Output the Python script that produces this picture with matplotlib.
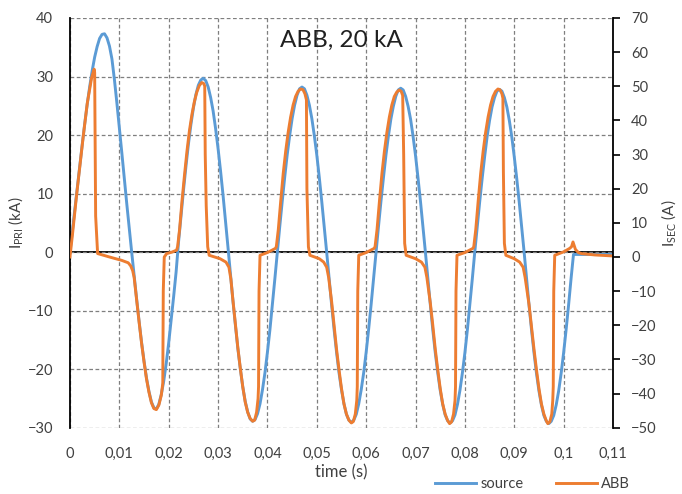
import matplotlib
matplotlib.use("Agg")
import matplotlib.pyplot as plt

plt.rcParams['font.family'] = ['Lato', 'DejaVu Sans']

# source: primary current (kA), every 0.5 ms from t = 0
src_step = 0.0005
i_src = [0, 3.7, 7.4, 11, 14.8, 18.5, 22, 25.3, 28.3, 31, 33.3, 35.1, 36.5, 37.2, 37.3,
         36.6, 35.2, 33, 29.5, 25.5, 21.3, 17, 12.6, 8.3, 4.1, 0,
         -4, -8, -11.8, -15.4, -18.6, -21.5, -23.8, -25.6, -26.6, -26.8, -26, -24.3, -22, -19,
         -15.5, -11.6, -7.6, -3.4,
         1.8, 6.3, 10.6, 14.7, 18.5, 21.8, 24.6, 26.9, 28.5, 29.4, 29.7, 29.3, 28.2, 26.4, 24.1,
         21.1, 17.7, 13.9, 9.8, 5.4, 0.9,
         -3.7, -8.2, -12.4, -16.4, -19.9, -23.0, -25.5, -27.3, -28.5, -28.9, -28.6, -27.6, -25.9,
         -23.5, -20.6, -17.1, -13.3, -9.0, -4.6,
         0, 4.4, 8.7, 12.8, 16.6, 19.9, 22.8, 25.1, 26.8, 27.9, 28.2, 27.9, 26.8, 25.1, 22.8, 19.9,
         16.6, 12.8, 8.7, 4.4,
         0, -4.5, -9.0, -13.2, -17.1, -20.6, -23.5, -25.9, -27.7, -28.7, -29.1, -28.7, -27.7, -25.9,
         -23.5, -20.6, -17.1, -13.2, -9.0, -4.5,
         0, 4.4, 8.7, 12.7, 16.5, 19.8, 22.7, 24.9, 26.6, 27.7, 28.0, 27.7, 26.6, 24.9, 22.7, 19.8,
         16.5, 12.7, 8.7, 4.4,
         0, -4.6, -9.0, -13.3, -17.2, -20.6, -23.6, -26.0, -27.8, -28.8, -29.2, -28.8, -27.8, -26.0,
         -23.6, -20.6, -17.2, -13.3, -9.0, -4.6,
         0, 4.3, 8.6, 12.6, 16.3, 19.7, 22.5, 24.8, 26.4, 27.5, 27.8, 27.5, 26.4, 24.8, 22.5, 19.7,
         16.3, 12.6, 8.6, 4.3,
         0, -4.6, -9.1, -13.3, -17.2, -20.7, -23.7, -26.1, -27.9, -28.9, -29.3, -28.9, -27.9, -26.1,
         -23.7, -20.7, -17.2, -13.3, -9.1, -4.6,
         -0.4, -0.4, -0.4, -0.4, -0.4, -0.4, -0.4, -0.4, -0.4, -0.4, -0.4, -0.4, -0.4, -0.4, -0.4,
         -0.4, -0.4]
t_src = [k * src_step for k in range(len(i_src))]

# ABB: secondary current (A)
t_abb = [0, 0.0005, 0.001, 0.00136, 0.002, 0.0027, 0.0035, 0.0044, 0.0049, 0.0050, 0.0052, 0.0056,
         0.008, 0.0105, 0.0118, 0.0123, 0.0127, 0.013, 0.0135, 0.014, 0.0145, 0.015, 0.0155,
         0.016, 0.0165, 0.017, 0.0175, 0.018, 0.0185, 0.0188, 0.0189, 0.0191, 0.0196, 0.0206, 0.0216,
         0.0218, 0.0222, 0.0227, 0.0232, 0.0237, 0.0242, 0.0247, 0.0252, 0.0257, 0.0262, 0.0267,
         0.0271, 0.0273, 0.0274, 0.0276, 0.0279, 0.0282, 0.0304, 0.0316, 0.0322, 0.0326,
         0.033, 0.0335, 0.034, 0.0345, 0.035, 0.0355, 0.036, 0.0365, 0.037, 0.0374, 0.0378, 0.0381,
         0.0382, 0.0383, 0.0385, 0.04, 0.0416,
         0.0418, 0.0422, 0.0427, 0.0432, 0.0437, 0.0442, 0.0447, 0.0452, 0.0457, 0.0462, 0.0467,
         0.0472, 0.0476, 0.0479, 0.048, 0.0483, 0.0486, 0.0505, 0.0514, 0.052, 0.0524,
         0.053, 0.0535, 0.054, 0.0545, 0.055, 0.0555, 0.056, 0.0565, 0.057, 0.0574, 0.0578, 0.0581,
         0.0582, 0.0583, 0.0585, 0.06, 0.0616,
         0.0618, 0.0622, 0.0627, 0.0632, 0.0637, 0.0642, 0.0647, 0.0652, 0.0657, 0.0662, 0.0667,
         0.0671, 0.0674, 0.0676, 0.0678, 0.0681, 0.07, 0.0712, 0.0719, 0.0723,
         0.073, 0.0735, 0.074, 0.0745, 0.075, 0.0755, 0.076, 0.0765, 0.0769, 0.0773, 0.0777, 0.078,
         0.0781, 0.0782, 0.0784, 0.08, 0.0816,
         0.0818, 0.0822, 0.0827, 0.0832, 0.0837, 0.0842, 0.0847, 0.0852, 0.0857, 0.0862, 0.0867,
         0.0871, 0.0875, 0.0877, 0.0878, 0.088, 0.0883, 0.09, 0.0911, 0.0918, 0.0922,
         0.093, 0.0935, 0.094, 0.0945, 0.095, 0.0955, 0.096, 0.0965, 0.0968, 0.0972, 0.0976, 0.0978,
         0.0979, 0.098, 0.0982, 0.1, 0.1012, 0.1016, 0.1019, 0.1024, 0.103, 0.1036, 0.1063, 0.11]
i_abb = [0, 6.5, 13.5, 18.4, 26.5, 35.5, 45, 52.6, 55, 54, 12, 1.0,
         0, -1.0, -1.7, -2.6, -4, -6, -12.5, -19, -25.2, -30.7, -35.7,
         -39.6, -42.7, -44.4, -44.7, -43.4, -40.5, -37, -10, 0, 1.0, 1.4, 2.0,
         3, 8, 16.5, 24, 31, 37, 41.7, 45.5, 48.3, 50.2, 51.1,
         50.8, 50, 30, 15, 3, 0.5, -0.5, -1.5, -3, -6.5,
         -12.5, -19.5, -26.5, -32.5, -38, -42.5, -45.5, -47.3, -48.1, -47.8, -45.5, -41.5,
         -38, -10, 0.5, 1.3, 2.5,
         3, 8, 16.5, 24.5, 31, 36.5, 41, 44.5, 47, 48.5, 49.2,
         49, 47.8, 46, 20, 3, 0.5, -0.5, -1.5, -3, -6,
         -13, -20, -27, -33, -38.5, -43, -46, -47.8, -48.6, -48.2, -46, -42,
         -38, -10, 0.5, 1.3, 2.5,
         3, 8, 16.5, 24.5, 31, 36.5, 41, 44.5, 47, 48.3, 48.9,
         48.5, 47.3, 30, 4, 0.5, -0.5, -1.5, -3, -6,
         -13.5, -20, -27, -33, -38.5, -43, -46, -47.9, -48.8, -48.3, -46, -42,
         -38, -10, 0.5, 1.3, 2.5,
         3, 8, 16.5, 24.5, 31, 36.5, 41, 44.5, 47, 48.5, 49.2,
         49, 47.8, 46.5, 25, 4, 0.5, -0.5, -1.5, -3, -6,
         -14, -20.5, -27, -33, -38.5, -43, -46, -48, -48.8, -48.3, -46, -42,
         -38, -10, 0.5, 1.5, 2.5, 3, 4.4, 2.2, 1.3, 1.0, 0.6, 0.3]

x_ticks = [0, 0.01, 0.02, 0.03, 0.04, 0.05, 0.06, 0.07, 0.08, 0.09, 0.1, 0.11]
x_labels = ["0", "0,01", "0,02", "0,03", "0,04", "0,05", "0,06", "0,07", "0,08", "0,09", "0,1", "0,11"]
left_ticks = [-30, -20, -10, 0, 10, 20, 30, 40]
right_ticks = [-50, -40, -30, -20, -10, 0, 10, 20, 30, 40, 50, 60, 70]

blue = "#5B9BD5"
orange = "#ED7D31"
txt = "#404040"

fig = plt.figure(figsize=(6.82, 4.94), dpi=100)
ax = fig.add_axes([0.1026, 0.1342, 0.7962, 0.8294])
ax2 = ax.twinx()

ax.plot(t_src, i_src, color=blue, lw=2.1, label="source", solid_joinstyle="round")
ax2.plot(t_abb, i_abb, color=orange, lw=2.1, label="ABB", solid_joinstyle="round")

ax.set_xlim(0, 0.11)
ax.set_ylim(-30, 40)
ax2.set_ylim(-50, 70)

ax.set_xticks(x_ticks)
ax.set_xticklabels(x_labels)
ax.set_yticks(left_ticks)
ax2.set_yticks(right_ticks)

ax.grid(True, color="#7f7f7f", linestyle=(0, (3, 2)), lw=0.9)
ax.axhline(0, color="black", lw=1.3, zorder=1)

for s in ["top", "bottom", "right"]:
    ax.spines[s].set_visible(False)
for s in ["top", "bottom", "left"]:
    ax2.spines[s].set_visible(False)
ax.spines["left"].set_color("black")
ax.spines["left"].set_linewidth(1.3)
ax2.spines["right"].set_color("black")
ax2.spines["right"].set_linewidth(1.3)

ax.tick_params(axis="x", length=0, pad=14, labelsize=10.5, colors=txt)
ax.tick_params(axis="y", length=0, pad=12, labelsize=10.5, colors=txt)
ax2.tick_params(axis="y", length=5, width=1.2, color="black", pad=8, labelsize=10.5, labelcolor=txt)

ax.set_xlabel("time (s)", fontsize=12, color=txt, labelpad=2)
ax.set_ylabel(r"I$_\mathregular{PRI}$ (kA)", fontsize=11, color=txt, labelpad=1)
ax2.set_ylabel(r"I$_\mathregular{SEC}$ (A)", fontsize=11, color=txt, labelpad=2)

ax.text(0.5, 0.946, "ABB, 20 kA", transform=ax.transAxes, ha="center", va="center",
        fontsize=17.5, color="#202020")

handles = ax.get_lines()[:1] + ax2.get_lines()[:1]
fig.legend(handles, ["source", "ABB"], loc="center", bbox_to_anchor=(0.781, 0.02), ncol=2,
           frameon=False, fontsize=10.5, handlelength=2.8, columnspacing=2.2, handletextpad=0.3,
           labelcolor=txt, borderpad=0.2)

fig.savefig("out.png", dpi=100)
